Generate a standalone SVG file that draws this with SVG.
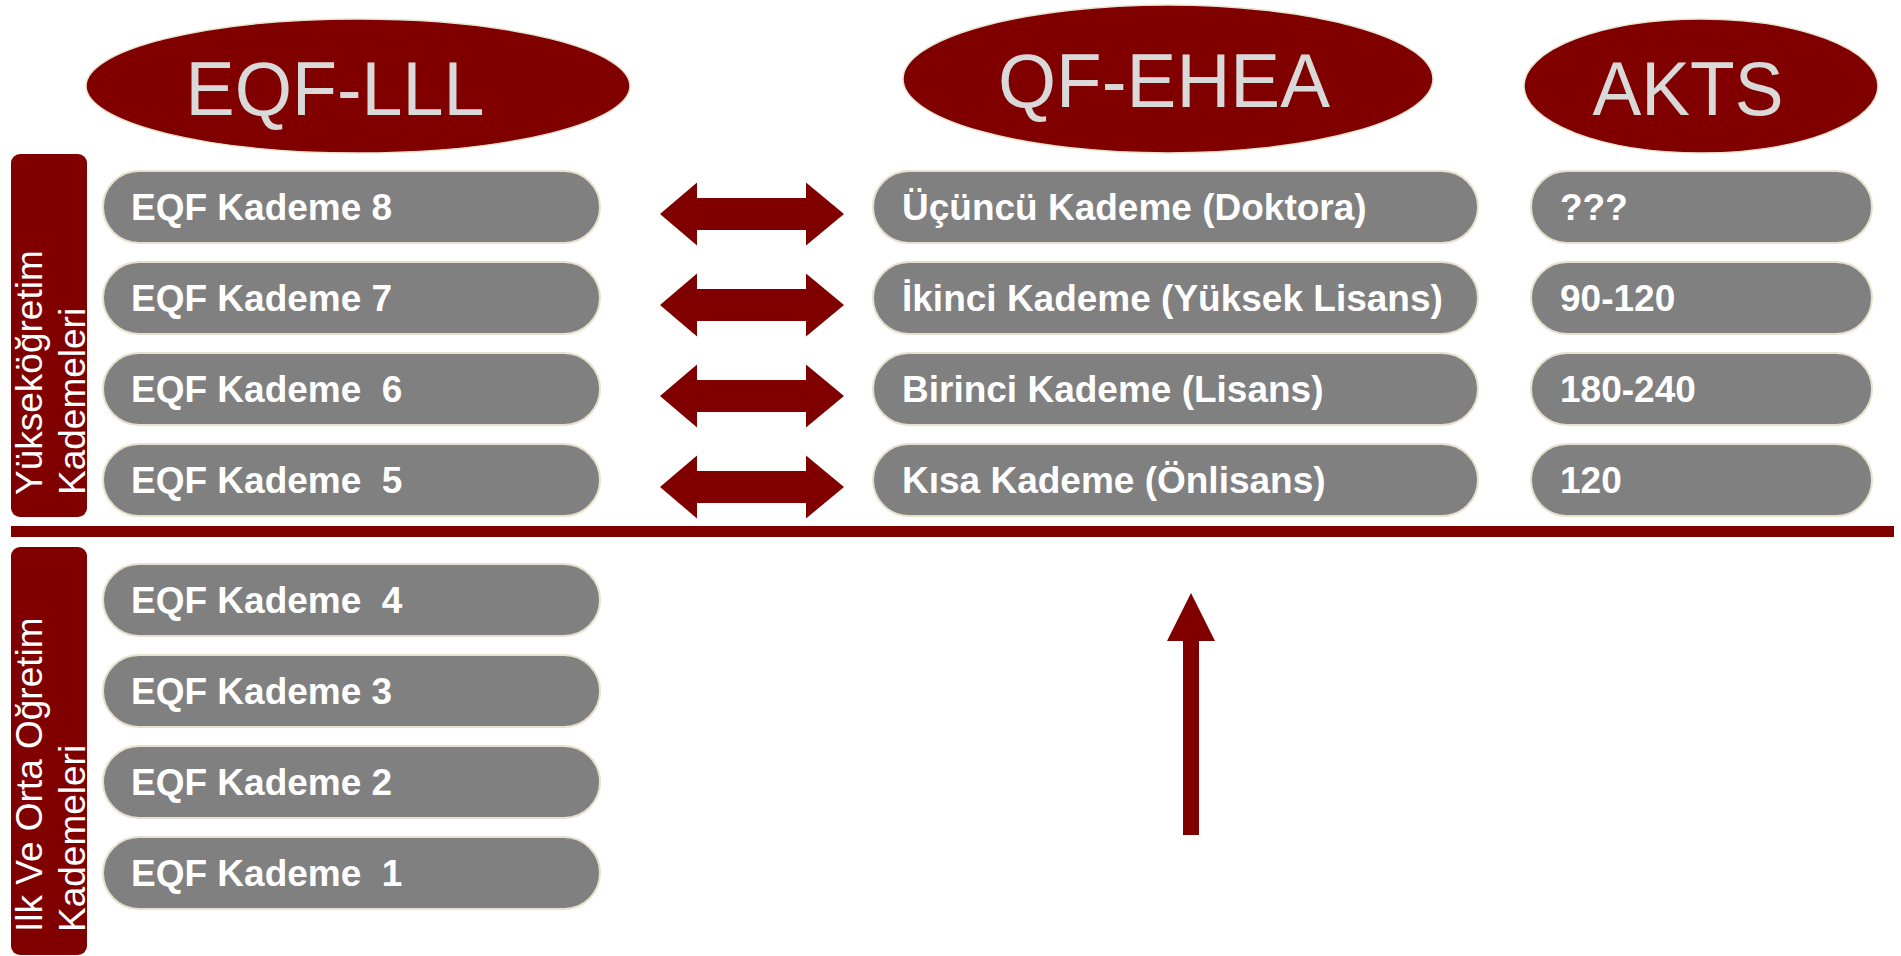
<svg xmlns="http://www.w3.org/2000/svg" width="1901" height="956" viewBox="0 0 1901 956">
<style>
.hdr{fill:#800000;stroke:#e8e2d0;stroke-width:1.5}
.hdrt{font-family:"Liberation Sans",Arial,sans-serif;font-size:76px;fill:#d9d9d9;text-anchor:middle}
.pill{fill:#808080;stroke:#e6e0cc;stroke-width:2}
.pt{font-family:"Liberation Sans",Arial,sans-serif;font-size:37px;font-weight:bold;fill:#ffffff;white-space:pre}
.bar{fill:#800000}
.vt{font-family:"Liberation Sans",Arial,sans-serif;font-size:37px;fill:#ffffff}
.arr{fill:#800000}
</style>
<rect width="1901" height="956" fill="#ffffff"/>

<g id="header-eqf">
<ellipse class="hdr" cx="358" cy="86" rx="272" ry="67"/>
<text class="hdrt" x="335" y="115" textLength="299" lengthAdjust="spacingAndGlyphs">EQF-LLL</text>
</g>
<g id="header-qf">
<ellipse class="hdr" cx="1168" cy="79" rx="265" ry="74"/>
<text class="hdrt" x="1164" y="107" textLength="332" lengthAdjust="spacingAndGlyphs">QF-EHEA</text>
</g>
<g id="header-akts">
<ellipse class="hdr" cx="1701" cy="86" rx="177" ry="67"/>
<text class="hdrt" x="1688" y="115" textLength="191" lengthAdjust="spacingAndGlyphs">AKTS</text>
</g>

<g id="bar-upper">
<rect class="bar" x="11" y="154" width="76" height="363" rx="9"/>
<text class="vt" transform="translate(42,495) rotate(-90)">Yükseköğretim</text>
<text class="vt" transform="translate(85,495) rotate(-90)">Kademeleri</text>
</g>
<g id="bar-lower">
<rect class="bar" x="11" y="547" width="76" height="408" rx="9"/>
<text class="vt" transform="translate(42,932) rotate(-90)">Ilk Ve Orta Oğretim</text>
<text class="vt" transform="translate(85,932) rotate(-90)">Kademeleri</text>
</g>

<g id="divider">
<rect class="bar" x="11" y="526" width="1883" height="11"/>
</g>

<g id="eqf8"><rect class="pill" x="103" y="171" width="497" height="72" rx="36"/><text class="pt" x="131" y="220">EQF Kademe 8</text></g>
<g id="eqf7"><rect class="pill" x="103" y="262" width="497" height="72" rx="36"/><text class="pt" x="131" y="311">EQF Kademe 7</text></g>
<g id="eqf6"><rect class="pill" x="103" y="353" width="497" height="72" rx="36"/><text class="pt" x="131" y="402">EQF Kademe  6</text></g>
<g id="eqf5"><rect class="pill" x="103" y="444" width="497" height="72" rx="36"/><text class="pt" x="131" y="493">EQF Kademe  5</text></g>
<g id="eqf4"><rect class="pill" x="103" y="564" width="497" height="72" rx="36"/><text class="pt" x="131" y="613">EQF Kademe  4</text></g>
<g id="eqf3"><rect class="pill" x="103" y="655" width="497" height="72" rx="36"/><text class="pt" x="131" y="704">EQF Kademe 3</text></g>
<g id="eqf2"><rect class="pill" x="103" y="746" width="497" height="72" rx="36"/><text class="pt" x="131" y="795">EQF Kademe 2</text></g>
<g id="eqf1"><rect class="pill" x="103" y="837" width="497" height="72" rx="36"/><text class="pt" x="131" y="886">EQF Kademe  1</text></g>

<g id="qf3"><rect class="pill" x="873" y="171" width="605" height="72" rx="36"/><text class="pt" x="902" y="220">Üçüncü Kademe (Doktora)</text></g>
<g id="qf2"><rect class="pill" x="873" y="262" width="605" height="72" rx="36"/><text class="pt" x="902" y="311">İkinci Kademe (Yüksek Lisans)</text></g>
<g id="qf1"><rect class="pill" x="873" y="353" width="605" height="72" rx="36"/><text class="pt" x="902" y="402">Birinci Kademe (Lisans)</text></g>
<g id="qf0"><rect class="pill" x="873" y="444" width="605" height="72" rx="36"/><text class="pt" x="902" y="493">Kısa Kademe (Önlisans)</text></g>

<g id="akts3"><rect class="pill" x="1531" y="171" width="341" height="72" rx="36"/><text class="pt" x="1560" y="220">???</text></g>
<g id="akts2"><rect class="pill" x="1531" y="262" width="341" height="72" rx="36"/><text class="pt" x="1560" y="311">90-120</text></g>
<g id="akts1"><rect class="pill" x="1531" y="353" width="341" height="72" rx="36"/><text class="pt" x="1560" y="402">180-240</text></g>
<g id="akts0"><rect class="pill" x="1531" y="444" width="341" height="72" rx="36"/><text class="pt" x="1560" y="493">120</text></g>

<g id="connectors">
<polygon class="arr" points="660,214 697,182.5 697,198 806,198 806,182.5 844,214 806,245.5 806,230 697,230 697,245.5"/>
<polygon class="arr" points="660,305 697,273.5 697,289 806,289 806,273.5 844,305 806,336.5 806,321 697,321 697,336.5"/>
<polygon class="arr" points="660,396 697,364.5 697,380 806,380 806,364.5 844,396 806,427.5 806,412 697,412 697,427.5"/>
<polygon class="arr" points="660,487 697,455.5 697,471 806,471 806,455.5 844,487 806,518.5 806,503 697,503 697,518.5"/>
<polygon class="arr" points="1191,593 1215,641 1199,641 1199,835 1183,835 1183,641 1167,641"/>
</g>
</svg>
